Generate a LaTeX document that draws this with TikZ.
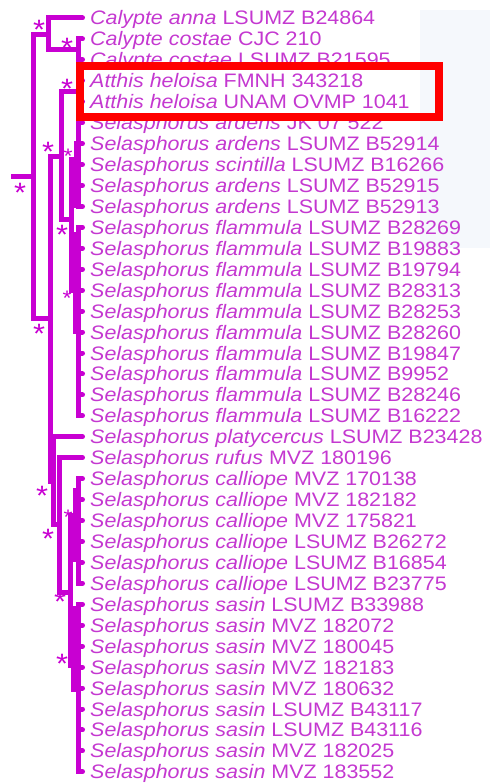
\documentclass[tikz,border=0pt]{standalone}
\usepackage{fontspec}
\setmainfont{Liberation Sans}[FakeStretch=1.1]
\definecolor{lin}{RGB}{200,0,210}
\definecolor{txt}{RGB}{196,56,208}
\definecolor{hlred}{RGB}{255,0,0}
\definecolor{faint}{RGB}{245,248,252}
\begin{document}
\begin{tikzpicture}[x=1pt,y=-1pt,
  br/.style={draw=lin, line width=5pt},
  clade/.style={draw=lin, line width=5pt, line cap=round},
  inner/.style={draw=lin, line width=5pt},
  lab/.style={anchor=base west, inner sep=0pt, text=txt, font=\fontsize{19.5}{20}\selectfont},
  sig/.style={anchor=base, inner sep=0pt, text=lin, font=\fontsize{28}{28}\selectfont},
  sigs/.style={sig, font=\fontsize{21}{21}\selectfont},
  hlbox/.style={draw=hlred, line width=8pt, inner sep=0pt},
]
\useasboundingbox (0,0) rectangle (493,783);
\fill[faint] (420,10) rectangle (490,248);
% leaves
\foreach \sp/\id [count=\i] in {
  Calypte anna/LSUMZ B24864,
  Calypte costae/CJC 210,
  Calypte costae/LSUMZ B21595,
  Atthis heloisa/FMNH 343218,
  Atthis heloisa/UNAM OVMP 1041,
  Selasphorus ardens/JK 07 522,
  Selasphorus ardens/LSUMZ B52914,
  Selasphorus scintilla/LSUMZ B16266,
  Selasphorus ardens/LSUMZ B52915,
  Selasphorus ardens/LSUMZ B52913,
  Selasphorus flammula/LSUMZ B28269,
  Selasphorus flammula/LSUMZ B19883,
  Selasphorus flammula/LSUMZ B19794,
  Selasphorus flammula/LSUMZ B28313,
  Selasphorus flammula/LSUMZ B28253,
  Selasphorus flammula/LSUMZ B28260,
  Selasphorus flammula/LSUMZ B19847,
  Selasphorus flammula/LSUMZ B9952,
  Selasphorus flammula/LSUMZ B28246,
  Selasphorus flammula/LSUMZ B16222,
  Selasphorus platycercus/LSUMZ B23428,
  Selasphorus rufus/MVZ 180196,
  Selasphorus calliope/MVZ 170138,
  Selasphorus calliope/MVZ 182182,
  Selasphorus calliope/MVZ 175821,
  Selasphorus calliope/LSUMZ B26272,
  Selasphorus calliope/LSUMZ B16854,
  Selasphorus calliope/LSUMZ B23775,
  Selasphorus sasin/LSUMZ B33988,
  Selasphorus sasin/MVZ 182072,
  Selasphorus sasin/MVZ 180045,
  Selasphorus sasin/MVZ 182183,
  Selasphorus sasin/MVZ 180632,
  Selasphorus sasin/LSUMZ B43117,
  Selasphorus sasin/LSUMZ B43116,
  Selasphorus sasin/MVZ 182025,
  Selasphorus sasin/MVZ 183552}{
  \pgfmathsetmacro\yy{18+(\i-1)*20.94}
  \coordinate (t\i) at (82.5,\yy);
  \node[lab] (l\i) at (90,\yy+7) {\textit{\sp} \id};
}
% internal nodes (x, connecting y)
\coordinate (root) at (33,177);
\coordinate (rstub) at (11,177);
\coordinate (Ca) at (48,35);
\coordinate (Co) at (78,50);
\coordinate (A) at (50,318);
\coordinate (C) at (61,157);
\coordinate (At) at (79,92);
\coordinate (D) at (71,220);
\coordinate (E) at (78,160);
\coordinate (F) at (78,290);
\coordinate (B) at (53,481);
\coordinate (G) at (59,524);
\coordinate (H) at (70,592);
\coordinate (I) at (78,515);
\coordinate (J) at (78,665);
% thick inner parts of the terminal clades
\coordinate (Ea) at (76,141); \coordinate (Eb) at (76,208);
\coordinate (Fa) at (75,232); \coordinate (Fb) at (75,334);
\coordinate (Ia) at (75,488); \coordinate (Ib) at (75,562);
\coordinate (Ja) at (74,606); \coordinate (Jb) at (74,692);
% branches
\draw[br] (rstub) -- (root);
\draw[br] (root) |- (Ca);
\draw[br] (root) |- (A);
\draw[br,line cap=round] (Ca) |- (t1);
\draw[br] (Ca) |- (Co);
\foreach \k in {2,3} \draw[clade] (Co) |- (t\k);
\draw[br] (A) |- (C);
\draw[br] (A) |- (B);
\draw[br] (C) |- (At);
\draw[br] (C) |- (D);
\foreach \k in {4,5} \draw[clade] (At) |- (t\k);
\draw[br] (D) |- (E);
\draw[br] (D) |- (F);
\foreach \k in {6,...,10} \draw[clade] (E) |- (t\k);
\foreach \k in {11,...,20} \draw[clade] (F) |- (t\k);
\draw[br,line cap=round] (B) |- (t21);
\draw[br] (B) |- (G);
\draw[br,line cap=round] (G) |- (t22);
\draw[br] (G) |- (H);
\draw[br] (H) |- (I);
\draw[br] (H) |- (J);
\foreach \k in {23,...,28} \draw[clade] (I) |- (t\k);
\foreach \k in {29,...,37} \draw[clade] (J) |- (t\k);
\draw[inner] (Ea) -- (Eb);
\draw[inner] (Fa) -- (Fb);
\draw[inner] (Ia) -- (Ib);
\draw[inner,line width=6pt] (Ja) -- (Jb);
% support asterisks
\node[sig] (s1) at (39,40) {*};
\node[sig] (s2) at (67,58) {*};
\node[sig] (s3) at (67,99) {*};
\node[sig] (s4) at (48,162) {*};
\node[sigs] (s5) at (68,164) {*};
\node[sig] (s6) at (20,203) {*};
\node[sig] (s7) at (62,244) {*};
\node[sigs] (s8) at (67,305) {*};
\node[sig] (s9) at (39,343) {*};
\node[sig] (s10) at (42,505) {*};
\node[sigs] (s11) at (68,524) {*};
\node[sig] (s12) at (48,548) {*};
\node[sig] (s13) at (60,611) {*};
\node[sig] (s14) at (62,673) {*};
% highlight box
\node[hlbox, minimum width=359.5pt, minimum height=51.5pt] (hl) at (259.25,91.75) {};
\end{tikzpicture}
\end{document}
